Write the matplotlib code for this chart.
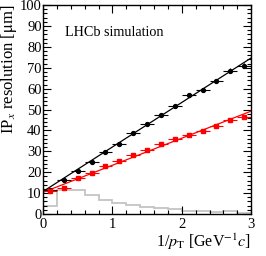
import numpy as np
import matplotlib
matplotlib.use("Agg")
import matplotlib.pyplot as plt
from matplotlib.ticker import MultipleLocator

# binned resolution vs 1/pT
bin_centres = [0.1, 0.3, 0.5, 0.7, 0.9, 1.1, 1.3, 1.5, 1.7, 1.9, 2.1, 2.3, 2.5, 2.7, 2.9]
bin_halfwidth = 0.1
res_black = [11.5, 16.3, 20.7, 25.0, 29.8, 33.6, 38.6, 43.0, 47.5, 51.7, 56.9, 59.3, 63.8, 68.6, 71.0]
err_black = [0.5, 0.5, 0.5, 0.5, 0.6, 0.6, 0.7, 0.7, 0.8, 0.8, 0.9, 0.9, 1.0, 1.1, 1.2]
res_red = [10.8, 12.6, 17.1, 19.5, 23.0, 25.5, 28.2, 30.6, 33.3, 35.7, 37.9, 39.9, 42.2, 45.0, 46.3]
err_red = [0.4, 0.4, 0.4, 0.5, 0.5, 0.5, 0.6, 0.6, 0.6, 0.7, 0.7, 0.8, 0.8, 0.9, 0.9]

# linear fits (intercept, slope)
fit_black = (10.8, 21.3)
fit_red = (10.4, 12.95)

# 1/pT distribution (arbitrary units)
hist_edges = [0.0, 0.2, 0.4, 0.6, 0.8, 1.0, 1.2, 1.4, 1.6, 1.8, 2.0, 2.2, 2.4, 2.6, 2.8, 3.0]
hist_vals = [3.7, 11.6, 11.6, 9.2, 6.5, 5.3, 4.5, 3.4, 2.7, 2.2, 1.6, 1.4, 1.1, 1.5, 0.6]

plt.rcParams['font.family'] = ['Liberation Serif', 'DejaVu Serif']
plt.rcParams['mathtext.fontset'] = 'stix'

fig = plt.figure(figsize=(2.66, 2.56), dpi=100)
ax = fig.add_axes([0.162, 0.164, 0.782, 0.816])

ax.stairs(hist_vals, hist_edges, color='#c4c4c4', lw=1.3)

xs = np.array([0.0, 3.0])
ax.plot(xs, fit_black[0] + fit_black[1] * xs, color='black', lw=0.9)
ax.plot(xs, fit_red[0] + fit_red[1] * xs, color='red', lw=0.9)

ax.errorbar(bin_centres, res_black, xerr=bin_halfwidth, yerr=err_black, fmt='o',
            color='black', ms=2.8, elinewidth=0.8, capsize=0)
ax.errorbar(bin_centres, res_red, xerr=bin_halfwidth, yerr=err_red, fmt='s',
            color='red', ms=2.8, elinewidth=0.8, capsize=0)

ax.set_xlim(0, 3)
ax.set_ylim(0, 100)
ax.xaxis.set_major_locator(MultipleLocator(1))
ax.xaxis.set_minor_locator(MultipleLocator(0.2))
ax.yaxis.set_major_locator(MultipleLocator(10))
ax.yaxis.set_minor_locator(MultipleLocator(2))
ax.tick_params(which='both', direction='in', top=True, right=True, labelsize=10.5, width=0.8)
ax.tick_params(which='major', length=6)
ax.tick_params(which='minor', length=3)
ax.tick_params(axis='x', pad=3)
ax.tick_params(axis='y', pad=1)
for s in ax.spines.values():
    s.set_linewidth(1.0)

ax.text(0.32, 87, 'LHCb simulation', fontsize=10.2, va='center')
ax.set_ylabel(r'IP$_x$ resolution [$\mathrm{\mu}$m]', fontsize=12)
ax.set_xlabel(r'1/$p_{\rm T}$ [GeV$^{-1}$$c$]', fontsize=11.5)
ax.xaxis.set_label_coords(1.0, -0.16)
ax.xaxis.label.set_horizontalalignment('right')
ax.xaxis.label.set_verticalalignment('baseline')
ax.yaxis.set_label_coords(-0.165, 1.0)
ax.yaxis.label.set_verticalalignment('center')
ax.yaxis.label.set_horizontalalignment('right')

fig.savefig('out.png', dpi=100)
